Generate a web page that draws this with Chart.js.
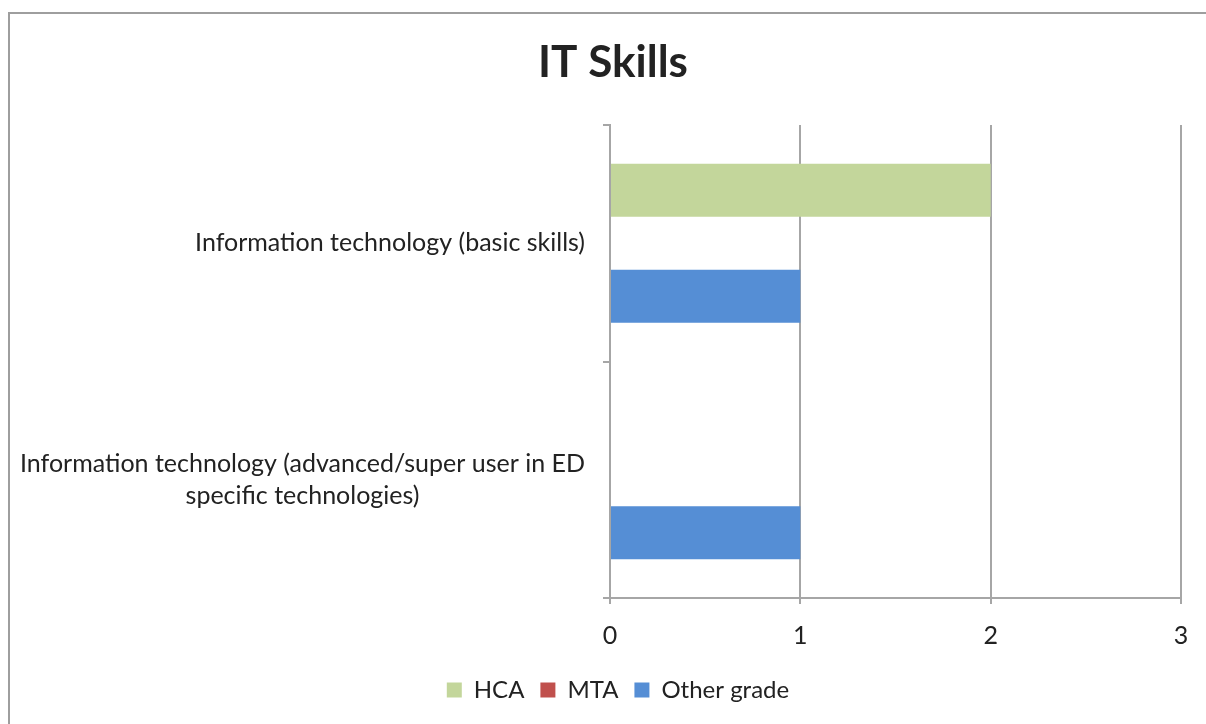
<!DOCTYPE html>
<html>
<head>
<meta charset="utf-8">
<script src="https://cdn.jsdelivr.net/npm/chart.js@4"></script>
<style>
  html, body { margin: 0; padding: 0; background: #fff; }
  #c { display: block; }
</style>
</head>
<body>
<canvas id="c" width="1206" height="724"></canvas>
<script>
const chartTitle = 'IT Skills';
const categories = [
  ['Information technology (basic skills)'],
  ['Information technology (advanced/super user in ED', 'specific technologies)']
];
const seriesNames = ['HCA', 'MTA', 'Other grade'];
const hcaValues = [2, 0];
const mtaValues = [0, 0];
const otherValues = [1, 1];
const xTicks = [0, 1, 2, 3];

const FONT = 'Lato, "Open Sans", sans-serif';
const TEXT = '#222222';
const GRID = '#A6A6A6';

const frame = {
  id: 'frame',
  beforeDraw(chart) {
    const ctx = chart.ctx;
    ctx.save();
    ctx.strokeStyle = '#9E9E9E';
    ctx.lineWidth = 2;
    ctx.beginPath();
    ctx.moveTo(8, 13); ctx.lineTo(1206, 13);
    ctx.moveTo(9, 13); ctx.lineTo(9, 724);
    ctx.stroke();
    ctx.restore();
  },
  afterDraw(chart) {
    const ctx = chart.ctx;
    ctx.save();
    ctx.fillStyle = TEXT;
    ctx.font = 'bold 44px ' + FONT;
    ctx.textAlign = 'center';
    ctx.textBaseline = 'middle';
    ctx.fillText(chartTitle, 613, 63);
    const ys = chart.scales.y;
    ctx.font = '25px ' + FONT;
    const lh = 32;
    categories.forEach((lab, i) => {
      const lines = Array.isArray(lab) ? lab : [lab];
      const y = ys.getPixelForTick(i);
      const block = Math.max(...lines.map(l => ctx.measureText(l).width));
      const cx = ys.right - 25 - block / 2;
      lines.forEach((l, j) => {
        ctx.fillText(l, cx, y + (j - (lines.length - 1) / 2) * lh);
      });
    });
    ctx.restore();
  }
};

new Chart(document.getElementById('c'), {
  type: 'bar',
  data: {
    labels: categories,
    datasets: [
      { label: seriesNames[0], data: hcaValues, backgroundColor: '#C3D69B' },
      { label: seriesNames[1], data: mtaValues, backgroundColor: '#C0504D' },
      { label: seriesNames[2], data: otherValues, backgroundColor: '#558ED5' }
    ]
  },
  options: {
    indexAxis: 'y',
    responsive: false,
    animation: false,
    devicePixelRatio: 1,
    categoryPercentage: 0.673,
    barPercentage: 1.0,
    borderWidth: 0,
    layout: { padding: { top: 125, left: 55, right: 25, bottom: 12 } },
    scales: {
      x: {
        min: 0, max: 3,
        afterBuildTicks(scale) { scale.ticks = xTicks.map(v => ({ value: v })); },
        afterFit(scale) { scale.height = 64; },
        grid: { color: GRID, lineWidth: 2, drawTicks: true, tickLength: 6, tickColor: GRID },
        border: { color: GRID, width: 2 },
        ticks: { color: TEXT, font: { family: FONT, size: 25 }, padding: 17 }
      },
      y: {
        afterFit(scale) { scale.width = 555; },
        grid: { offset: true, drawOnChartArea: false, drawTicks: true, tickLength: 7, color: GRID, lineWidth: 2 },
        border: { color: GRID, width: 2 },
        ticks: { display: false }
      }
    },
    plugins: {
      title: { display: false },
      tooltip: { enabled: false },
      legend: {
        position: 'bottom',
        labels: {
          boxWidth: 15, boxHeight: 15, padding: 16,
          color: TEXT,
          font: { family: FONT, size: 24 }
        }
      }
    }
  },
  plugins: [frame]
});
</script>
</body>
</html>
